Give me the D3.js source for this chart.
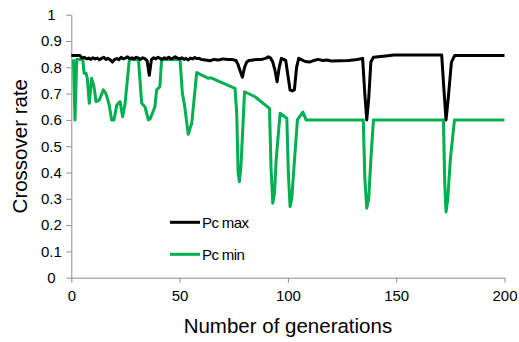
<!DOCTYPE html>
<html lang="en">
<head>
    <meta charset="UTF-8">
    <title>Crossover rate</title>
    <style>
        body {
            margin: 0;
            background: #fff;
        }

        svg {
            display: block;
            font-family: 'Liberation Sans', Arial, sans-serif;
        }

        .axis path,
        .axis line {
            stroke: #8c8c8c;
        }
    </style>
</head>
<body>
    <script src="https://d3js.org/d3.v7.min.js"></script>
    <script>
        // generation / rate pairs
        const maxGen = [0, 2, 4, 5, 6, 7, 8, 9, 10, 11, 12, 13, 14, 15, 16, 17, 18, 19, 20, 21, 22, 23, 24, 25, 26, 27, 28, 29, 30,
            31, 32, 33, 34, 35, 36, 37, 38, 39, 40, 41, 42, 43, 44, 45, 46, 47, 48, 49, 50, 51, 52, 53, 54, 55, 56, 57, 58,
            59, 60, 62, 64, 66, 68, 70, 72, 74, 76, 77, 78, 79, 80, 81, 82, 84, 86, 88, 90, 91, 92, 93, 94, 95, 96, 97, 98,
            99, 100, 101, 102, 103, 104, 105, 106, 108, 110, 112, 114, 116, 118, 120, 124, 128, 132, 134.5, 135.5, 136.4,
            137.3, 138.3, 139.5, 144, 149, 171, 172, 173, 174, 175.5, 177, 200]
        const maxRate = [0.845, 0.845, 0.845, 0.835, 0.838, 0.832, 0.835, 0.83, 0.836, 0.832, 0.835, 0.829, 0.834, 0.838, 0.83,
            0.834, 0.828, 0.82, 0.83, 0.833, 0.829, 0.838, 0.832, 0.835, 0.84, 0.833, 0.836, 0.832, 0.838, 0.835, 0.83,
            0.836, 0.833, 0.825, 0.77, 0.83, 0.836, 0.832, 0.838, 0.834, 0.83, 0.836, 0.833, 0.838, 0.832, 0.835, 0.84,
            0.835, 0.832, 0.836, 0.83, 0.834, 0.828, 0.835, 0.832, 0.837, 0.833, 0.834, 0.83, 0.828, 0.825, 0.83, 0.828,
            0.832, 0.83, 0.83, 0.826, 0.81, 0.785, 0.762, 0.8, 0.82, 0.826, 0.828, 0.83, 0.83, 0.835, 0.84, 0.835, 0.82,
            0.79, 0.745, 0.8, 0.834, 0.83, 0.826, 0.77, 0.714, 0.71, 0.714, 0.8, 0.834, 0.83, 0.822, 0.82, 0.826, 0.83,
            0.826, 0.828, 0.824, 0.825, 0.826, 0.83, 0.834, 0.7, 0.6, 0.68, 0.82, 0.838, 0.842, 0.847, 0.847, 0.72, 0.6,
            0.68, 0.82, 0.845, 0.845]

        const minGen = [1, 1.7, 2.5, 5.3, 5.9, 6.8, 7.4, 8.3, 9.4, 10.5, 11.4, 12.9, 14.8, 16, 17.5, 18.6, 19.7, 21, 22.5, 23.7,
            24.8, 26.8, 31, 32.5, 34, 35.6, 36.5, 38.6, 39.4, 40.9, 41.7, 50.2, 51.3, 52.2, 54, 55.6, 57.9, 63.3, 64.5, 75.6,
            76.4, 77, 77.6, 78.3, 80, 84.8, 91.5, 92.2, 93, 93.8, 94.6, 96.4, 99.5, 100.2, 101, 101.8, 102.8, 104.4, 106.9,
            108.4, 134.8, 135.5, 136.4, 137.3, 138.3, 139.5, 171.8, 172.4, 173, 173.8, 175, 176.9, 200]
        const minRate = [0.83, 0.6, 0.83, 0.83, 0.777, 0.777, 0.758, 0.663, 0.758, 0.726, 0.67, 0.675, 0.714, 0.7, 0.657, 0.6,
            0.6, 0.657, 0.67, 0.612, 0.66, 0.83, 0.83, 0.663, 0.65, 0.6, 0.605, 0.65, 0.714, 0.726, 0.83, 0.83, 0.7, 0.66,
            0.545, 0.587, 0.78, 0.758, 0.76, 0.72, 0.62, 0.4, 0.365, 0.42, 0.707, 0.688, 0.644, 0.42, 0.283, 0.32, 0.45,
            0.625, 0.606, 0.4, 0.27, 0.3, 0.42, 0.6, 0.63, 0.6, 0.6, 0.38, 0.264, 0.3, 0.45, 0.6, 0.6, 0.36, 0.25, 0.3,
            0.45, 0.6, 0.6]

        const seriesNames = ['Pc max', 'Pc min']
        const seriesColors = ['#000000', '#00b050']
        const xTicks = [0, 50, 100, 150, 200]
        const yTicks = [0, 0.1, 0.2, 0.3, 0.4, 0.5, 0.6, 0.7, 0.8, 0.9, 1]

        const width = 519
        const height = 342
        const margin = { top: 14.7, right: 14.5, bottom: 64.3, left: 71.3 }

        const svg = d3.select('body')
            .append('svg')
            .attr('width', width)
            .attr('height', height)

        const x = d3.scaleLinear()
            .domain([0, 200])
            .range([margin.left, width - margin.right])

        const y = d3.scaleLinear()
            .domain([0, 1])
            .range([height - margin.bottom, margin.top])

        // axes
        const xAxis = svg.append('g')
            .attr('class', 'axis')
            .attr('transform', `translate(0, ${y(0)})`)
            .call(d3.axisBottom(x).tickValues(xTicks).tickSize(5).tickSizeOuter(0).tickPadding(8))

        const yAxis = svg.append('g')
            .attr('class', 'axis')
            .attr('transform', `translate(${x(0)}, 0)`)
            .call(d3.axisLeft(y).tickValues(yTicks).tickFormat(d3.format('~g')).tickSize(5).tickSizeOuter(0))

        xAxis.selectAll('text')
            .attr('fill', '#000')
            .style('font-size', '15px')
            .attr('dy', '0.71em')

        yAxis.selectAll('text')
            .attr('fill', '#000')
            .attr('x', -20)
            .attr('text-anchor', 'middle')
            .style('font-size', '15px')

        // lines
        const line = d3.line()
            .x(d => x(d[0]))
            .y(d => y(d[1]))

        const series = [
            d3.zip(maxGen, maxRate),
            d3.zip(minGen, minRate)
        ]

        // green first so black sits on top
        ;[1, 0].forEach(i => {
            svg.append('path')
                .datum(series[i])
                .attr('fill', 'none')
                .attr('stroke', seriesColors[i])
                .attr('stroke-width', 3)
                .attr('stroke-linejoin', 'round')
                .attr('d', line)
        })

        // legend
        const legend = svg.selectAll('.legend')
            .data(seriesNames)
            .enter()
            .append('g')
            .attr('class', 'legend')
            .attr('transform', (_, i) => `translate(170, ${222.3 + i * 32})`)

        legend.append('line')
            .attr('x1', 0)
            .attr('x2', 30)
            .attr('stroke', (_, i) => seriesColors[i])
            .attr('stroke-width', 3)

        legend.append('text')
            .attr('x', 32)
            .attr('y', 6)
            .style('font-size', '15px')
            .style('letter-spacing', '-0.6px')
            .text(d => d)

        // titles
        svg.append('text')
            .attr('x', (x(0) + x(200)) / 2)
            .attr('y', 333)
            .attr('text-anchor', 'middle')
            .style('font-size', '20.5px')
            .text('Number of generations')

        svg.append('text')
            .attr('transform', `translate(27, ${(y(0) + y(1)) / 2}) rotate(-90)`)
            .attr('text-anchor', 'middle')
            .style('font-size', '20.5px')
            .text('Crossover rate')
    </script>
</body>
</html>
